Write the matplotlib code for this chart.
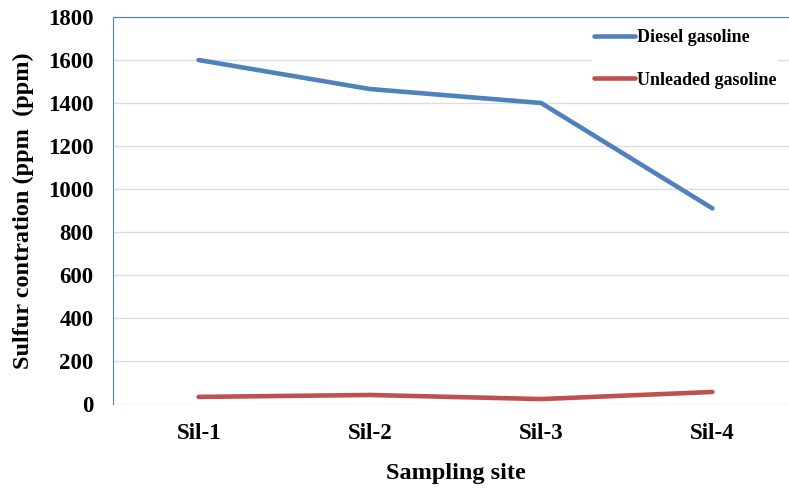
import matplotlib
matplotlib.use("Agg")
import matplotlib.pyplot as plt

sites = ["Sil-1", "Sil-2", "Sil-3", "Sil-4"]
diesel = [1600, 1465, 1400, 910]
unleaded = [33, 42, 23, 56]

plt.rcParams['font.family'] = ['Liberation Serif', 'DejaVu Serif']
plt.rcParams['font.weight'] = 'bold'

fig = plt.figure(figsize=(7.89, 4.90), dpi=100)
ax = fig.add_axes([113/789, 1 - 404/490, 685/789, 387/490])

x = range(len(sites))
ax.plot(x, diesel, color='#4F81BD', lw=3.3, solid_capstyle='round', label='Diesel gasoline')
ax.plot(x, unleaded, color='#C0504D', lw=3.3, solid_capstyle='round', label='Unleaded gasoline')

ax.set_xlim(-0.5, 3.5)
ax.set_ylim(0, 1800)
ax.set_yticks(range(0, 1801, 200))
ax.set_xticks(list(x))
ax.set_xticklabels(sites)
ax.yaxis.grid(True, color='#DDDDDD', lw=1)
ax.set_axisbelow(True)
ax.tick_params(length=0, labelsize=16.5, pad=14)
ax.tick_params(axis='x', pad=14)
for lab in ax.get_xticklabels() + ax.get_yticklabels():
    lab.set_fontweight('bold')

ax.spines['left'].set_color('#4F81BD')
ax.spines['top'].set_color('#4F81BD')
ax.spines['bottom'].set_visible(False)
ax.spines['right'].set_visible(False)

ax.set_xlabel('Sampling site', fontsize=17.5, fontweight='bold', labelpad=13)
ax.set_ylabel('Sulfur contration (ppm  (ppm)', fontsize=17.5, fontweight='bold', labelpad=10)

leg = ax.legend(loc='upper left', bbox_to_anchor=(470/685, 0.996), frameon=True,
                fontsize=13, handlelength=2.3, handletextpad=0.1,
                labelspacing=1.4, borderpad=0.1)
leg.get_frame().set_edgecolor('none')
leg.get_frame().set_facecolor('white')
leg.get_frame().set_alpha(1)
for t in leg.get_texts():
    t.set_fontweight('bold')

fig.savefig('out.png', dpi=100)
